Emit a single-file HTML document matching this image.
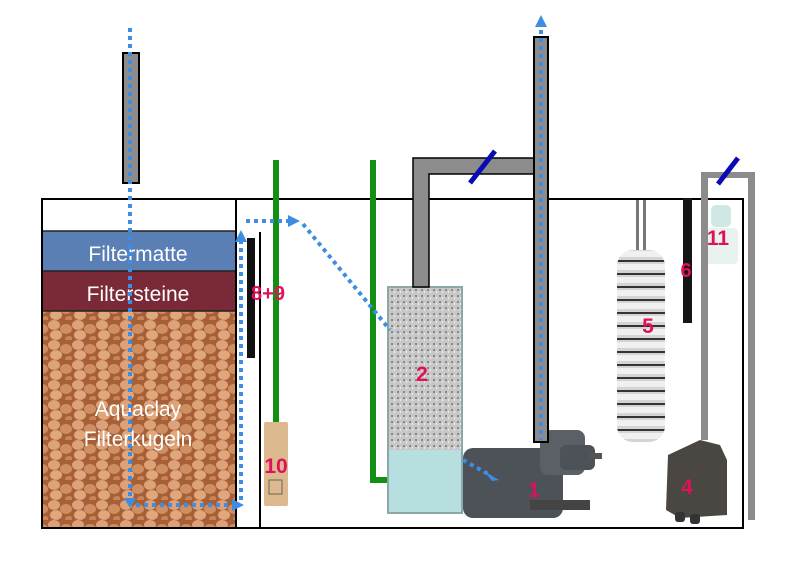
<!DOCTYPE html>
<html><head><meta charset="utf-8"><style>
html,body{margin:0;padding:0;background:#fff;width:800px;height:583px;overflow:hidden}
svg{display:block}
text{font-family:"Liberation Sans",sans-serif}
</style></head><body>
<svg width="800" height="583" viewBox="0 0 800 583" xmlns="http://www.w3.org/2000/svg">
<defs>
<pattern id="clay" width="24" height="20" patternUnits="userSpaceOnUse">
<rect width="24" height="20" fill="#a65f36"/>
<ellipse cx="6" cy="5" rx="6" ry="5" fill="#dca27a"/>
<ellipse cx="18" cy="9" rx="6" ry="5" fill="#cf8f62"/>
<ellipse cx="8" cy="15" rx="6" ry="5" fill="#e0a67c"/>
<ellipse cx="21" cy="19" rx="4" ry="3" fill="#c98455"/>
</pattern>
<pattern id="grav" width="6" height="6" patternUnits="userSpaceOnUse">
<rect width="6" height="6" fill="#c8c8c8"/>
<rect x="1" y="1" width="2" height="2" fill="#888"/>
<rect x="4" y="3" width="1" height="2" fill="#eee"/>
</pattern>
<pattern id="coil" width="48" height="13" patternUnits="userSpaceOnUse">
<rect width="48" height="13" fill="#d4d4d4"/>
<rect y="0" width="48" height="2" fill="#333"/>
<rect y="4" width="48" height="6" fill="#f0f0f0"/>
</pattern>
</defs>

<rect x="42" y="231" width="194" height="40" fill="#5a7fb5"/>
<rect x="42" y="271" width="194" height="40" fill="#7a2a36"/>
<rect x="42" y="311" width="194" height="217" fill="url(#clay)"/>
<line x1="42" y1="271" x2="236" y2="271" stroke="#222" stroke-width="1.5"/>
<line x1="42" y1="311" x2="236" y2="311" stroke="#222" stroke-width="1.5"/>
<line x1="42" y1="231" x2="236" y2="231" stroke="#222" stroke-width="1.5"/>
<rect x="42" y="199" width="194" height="329" fill="none" stroke="#000" stroke-width="2"/>
<polyline points="236,199 743,199 743,528 236,528" fill="none" stroke="#000" stroke-width="2"/>
<line x1="260" y1="232" x2="260" y2="528" stroke="#000" stroke-width="2"/>

<text x="138" y="261" fill="#fff" font-size="21" text-anchor="middle">Filtermatte</text>
<text x="138" y="301" fill="#fff" font-size="21" text-anchor="middle">Filtersteine</text>
<text x="138" y="416" fill="#fff" font-size="21" text-anchor="middle">Aquaclay</text>
<text x="138" y="446" fill="#fff" font-size="21" text-anchor="middle">Filterkugeln</text>

<rect x="123" y="53" width="16" height="130" fill="#8c8c8c" stroke="#000" stroke-width="2"/>

<rect x="273" y="160" width="6" height="262" fill="#119011"/>
<polyline points="373,160 373,480 428,480" fill="none" stroke="#119011" stroke-width="6"/>

<rect x="264" y="422" width="24" height="84" fill="#dcb98e" rx="2"/>
<rect x="269" y="480" width="13" height="14" fill="none" stroke="#665" stroke-width="1"/>
<text x="276" y="473" fill="#e0105a" font-size="21" font-weight="bold" text-anchor="middle">10</text>

<rect x="247" y="238" width="8" height="120" fill="#111"/>
<text x="268" y="300" fill="#e0105a" font-size="20" font-weight="bold" text-anchor="middle">8+9</text>

<rect x="388" y="287" width="74" height="163" fill="url(#grav)"/>
<rect x="388" y="450" width="74" height="63" fill="#b8dfe0"/>
<rect x="388" y="287" width="74" height="226" fill="none" stroke="#8aa8a8" stroke-width="2"/>
<text x="422" y="381" fill="#e0105a" font-size="21" font-weight="bold" text-anchor="middle">2</text>

<path d="M413,287 V158 H534 V174 H429 V287 Z" fill="#8c8c8c" stroke="#000" stroke-width="1.5"/>
<line x1="470" y1="183" x2="495" y2="151" stroke="#0a0ab4" stroke-width="5"/>

<!-- pump 1 -->
<rect x="463" y="448" width="100" height="70" rx="10" fill="#4c5258"/>
<rect x="540" y="430" width="45" height="45" rx="8" fill="#5a6066"/>
<rect x="560" y="445" width="35" height="25" rx="6" fill="#4c5258"/>
<rect x="590" y="453" width="12" height="6" fill="#555"/>
<rect x="530" y="500" width="60" height="10" fill="#444"/>
<text x="534" y="497" fill="#e0105a" font-size="21" font-weight="bold" text-anchor="middle">1</text>

<rect x="534" y="37" width="14" height="405" fill="#8c8c8c" stroke="#000" stroke-width="2"/>

<rect x="636" y="200" width="3" height="52" fill="#777"/>
<rect x="643" y="200" width="3" height="52" fill="#777"/>
<rect x="617" y="250" width="48" height="192" rx="16" fill="url(#coil)"/>
<text x="648" y="333" fill="#e0105a" font-size="21" font-weight="bold" text-anchor="middle">5</text>

<rect x="683" y="198" width="9" height="125" fill="#151515"/>
<text x="686" y="277" fill="#e0105a" font-size="20" font-weight="bold" text-anchor="middle">6</text>

<rect x="711" y="205" width="20" height="22" fill="#cfe8e4" rx="5"/>
<rect x="707" y="228" width="31" height="36" fill="#e8f2ee" rx="4"/>
<text x="718" y="245" fill="#e0105a" font-size="21" font-weight="bold" text-anchor="middle">11</text>

<path d="M701,440 V172 H755 V520 H748 V178 H708 V440 Z" fill="#8c8c8c"/>
<line x1="718" y1="184" x2="738" y2="158" stroke="#0a0ab4" stroke-width="5"/>

<path d="M668,455 L700,440 L720,445 L727,460 L727,515 L680,518 L666,510 Z" fill="#4a4642"/>
<rect x="675" y="512" width="10" height="10" rx="3" fill="#333"/>
<rect x="690" y="514" width="10" height="10" rx="3" fill="#333"/>
<text x="687" y="494" fill="#e0105a" font-size="21" font-weight="bold" text-anchor="middle">4</text>

<g fill="none" stroke="#3d8ee3" stroke-width="4" stroke-dasharray="4,4">
<polyline points="130,28 130,500"/>
<polyline points="136,505 234,505"/>
<polyline points="241,500 241,240"/>
<polyline points="246,221 290,221"/>
<polyline points="303,224 390,330"/>
<polyline points="463,460 490,475"/>
<polyline points="541,30 541,440"/>
</g>
<g fill="#3d8ee3">
<polygon points="124,498 136,498 130,508"/>
<polygon points="232,499 232,511 244,505"/>
<polygon points="235,242 247,242 241,230"/>
<polygon points="288,215 288,227 300,221"/>
<polygon points="484,471 492,481 499,480"/>
<polygon points="535,27 547,27 541,15"/>
</g>
</svg>
</body></html>
